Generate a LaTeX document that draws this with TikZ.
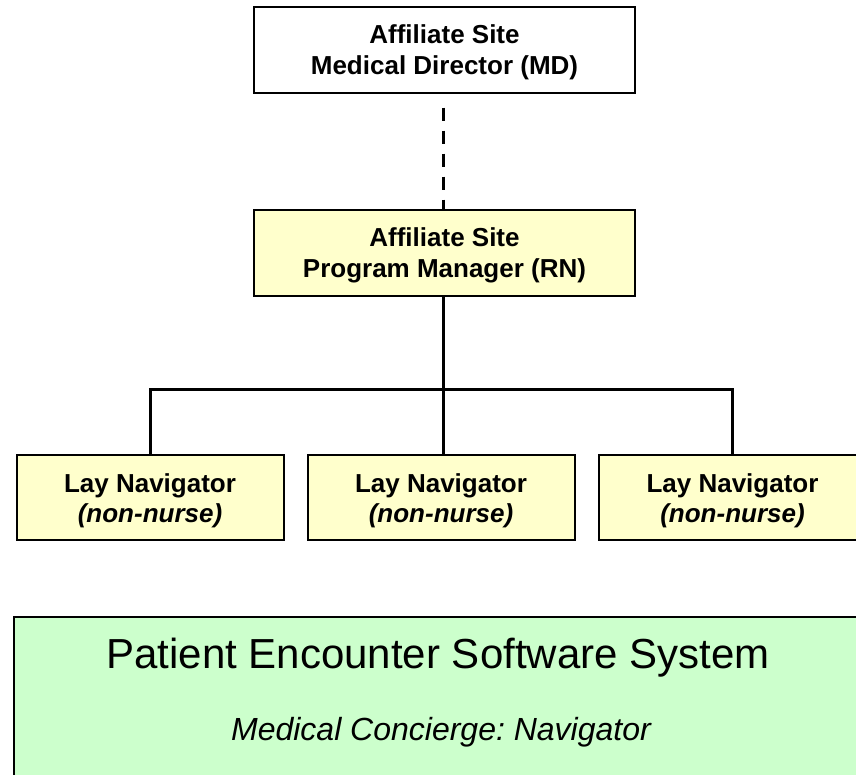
\documentclass[tikz,border=0pt]{standalone}
\usepackage{fontspec}
\setmainfont{Liberation Sans}
\frenchspacing
\definecolor{mgrfill}{HTML}{FFFFCC}
\definecolor{sysfill}{HTML}{CCFFCC}
\begin{document}
\begin{tikzpicture}[x=1pt,y=-1pt,
  box/.style={draw=black, line width=2pt, inner sep=0pt, align=center,
    font=\fontsize{26}{31}\selectfont\bfseries},
  topbox/.style={box, minimum width=381pt, minimum height=86pt, text height=55pt},
  navbox/.style={box, fill=mgrfill, minimum width=267pt, minimum height=85pt,
    text height=55pt, font=\fontsize{26}{30}\selectfont\bfseries},
  solidlink/.style={draw=black, line width=3pt},
  dottedlink/.style={draw=black, line width=3pt, dash pattern=on 13pt off 10pt, shorten <=14pt}
]
\useasboundingbox (0,0) rectangle (856,774);
\clip (0,0) rectangle (856,774);

% management chain
\node[topbox, fill=white] (md) at (444.5,49.5) {Affiliate Site\\Medical Director (MD)};
\node[topbox, fill=mgrfill] (pm) at (444.5,253) {Affiliate Site\\Program Manager (RN)};

% navigators
\node[navbox] (nav1) at (150,497.5) {Lay Navigator\\\textit{(non-nurse)}};
\node[navbox] (nav2) at (441,497.5) {Lay Navigator\\\textit{(non-nurse)}};
\node[navbox] (nav3) at (732.5,497.5) {Lay Navigator\\\textit{(non-nurse)}};

% reporting lines
\coordinate (split) at (443.5,389);
\path[dottedlink] (md.south -| split) -- (pm.north -| split);
\path[solidlink] (pm.south -| split) -- (split);
\path[solidlink] (nav1.north) |- (split) -| (nav3.north);
\path[solidlink] (split) -- (split |- nav2.north);

% software system panel
\node[draw=black, line width=2pt, fill=sysfill, anchor=north west,
  minimum width=850pt, minimum height=220pt, inner sep=0pt] (sys) at (13,616) {};
\node[anchor=base, font=\fontsize{42}{50}\selectfont] (systitle) at (438,668)
  {Patient Encounter Software System};
\node[anchor=base, font=\fontsize{32}{38}\selectfont\itshape] (syssub) at (441,740)
  {Medical Concierge: Navigator};
\end{tikzpicture}
\end{document}
